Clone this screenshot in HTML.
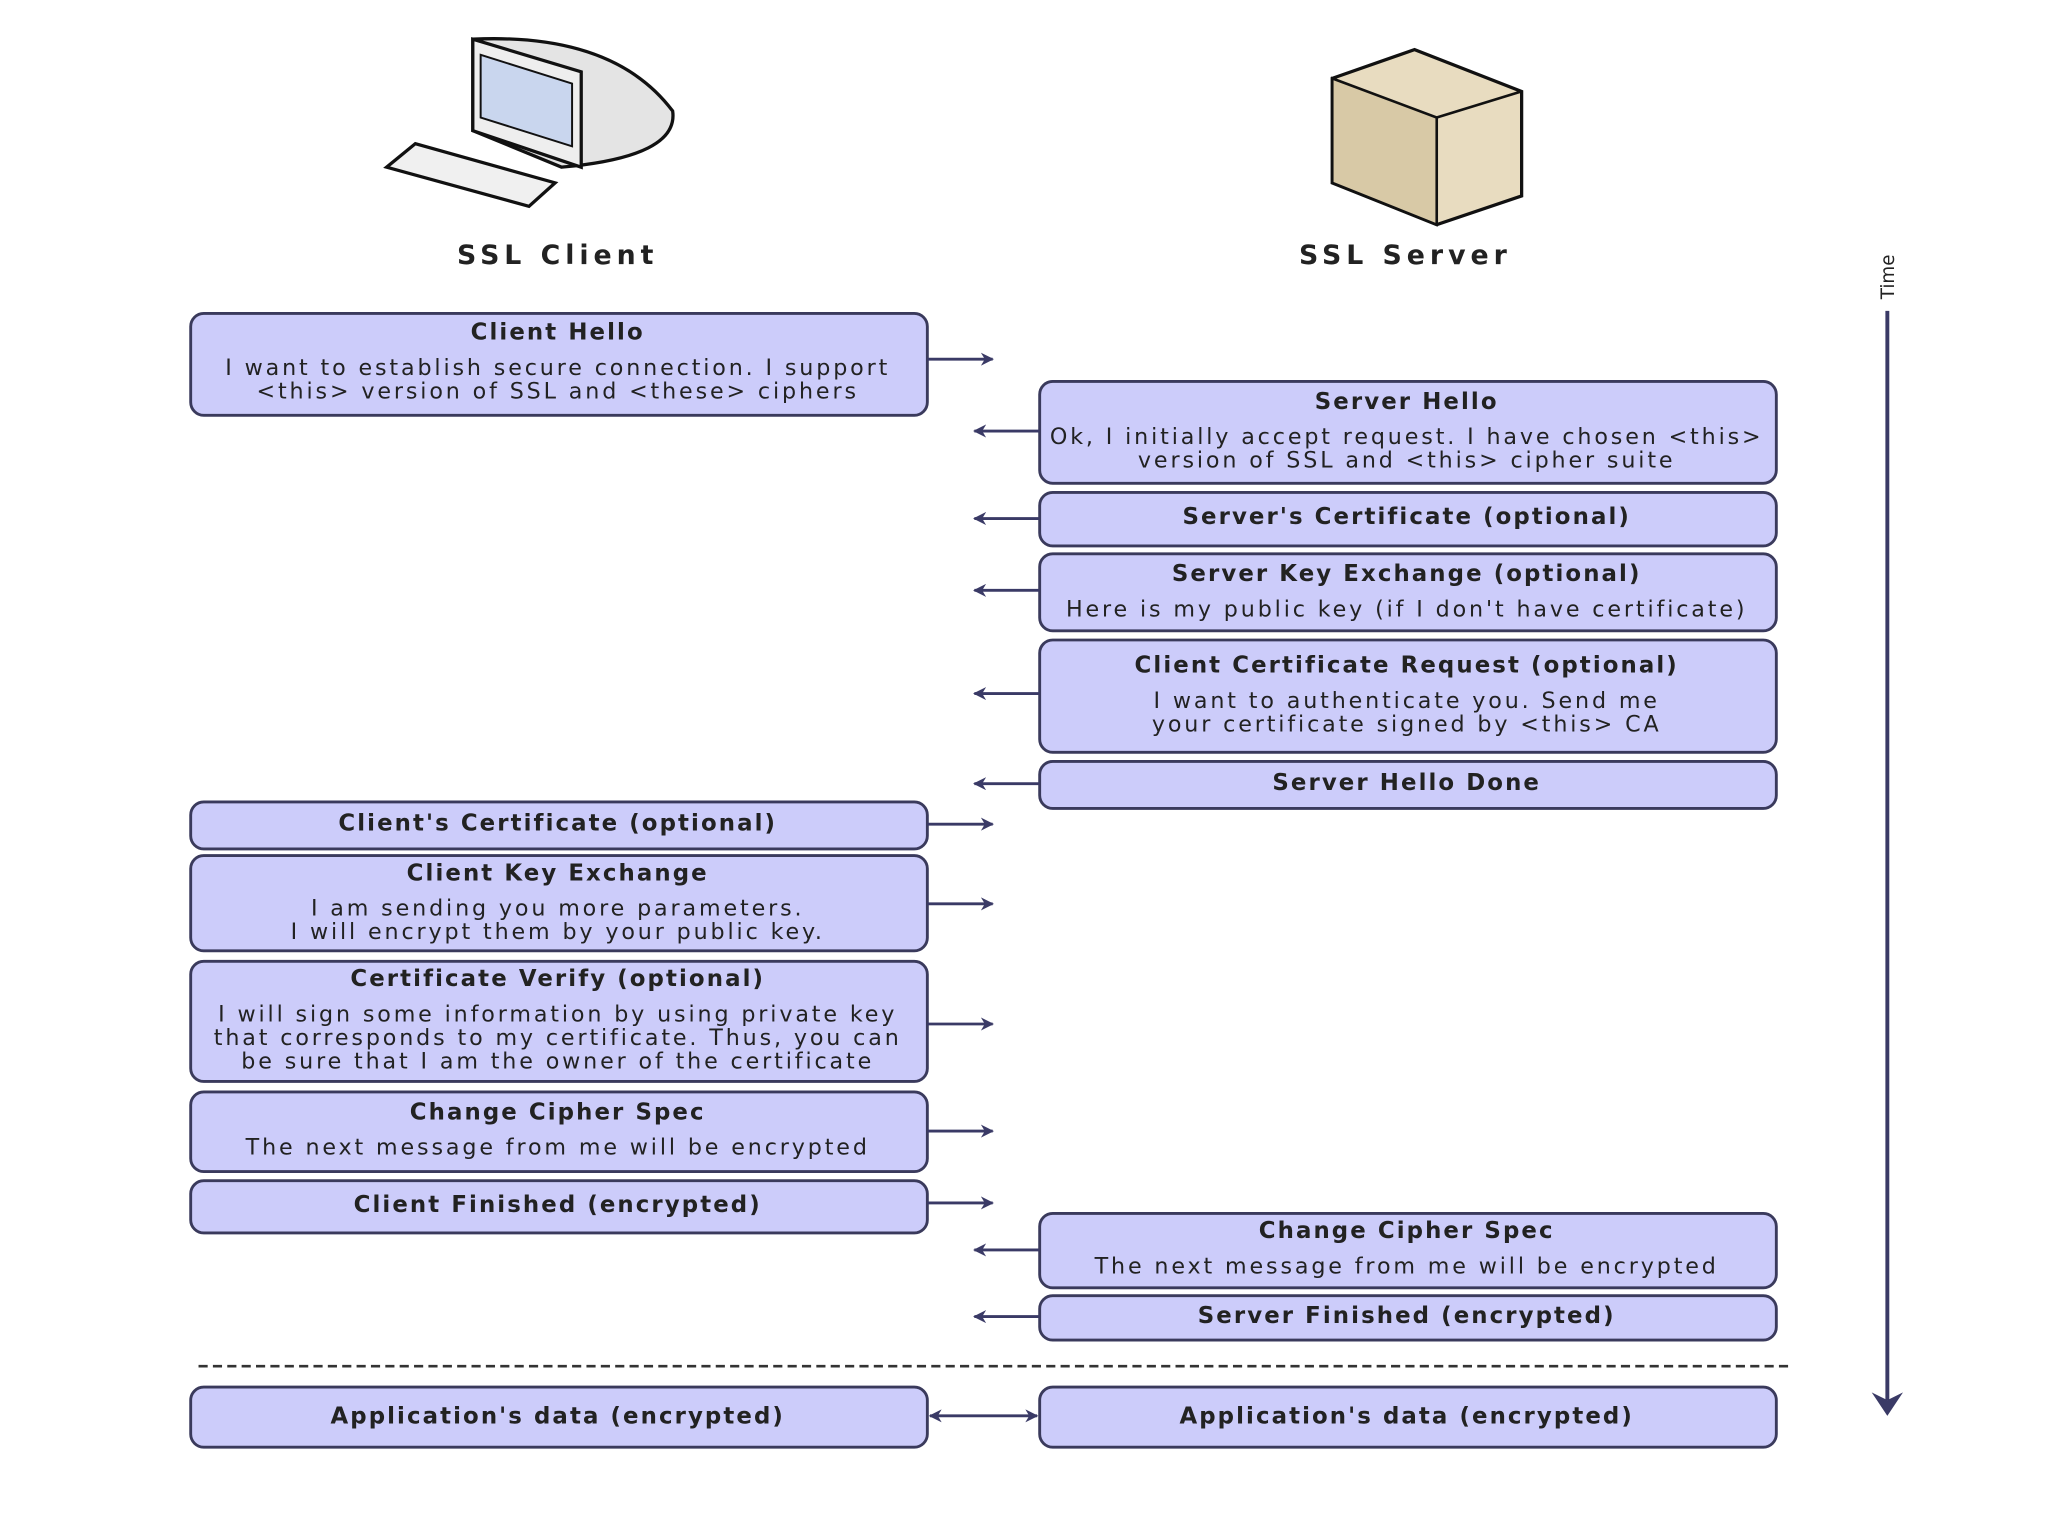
<!DOCTYPE html>
<html><head><meta charset="utf-8"><style>
html,body{margin:0;padding:0;background:#fff;}
svg{display:block}
text{font-family:"DejaVu Sans","Liberation Sans",sans-serif;fill:#222;}
.t{font-weight:bold;font-size:17.5px;text-anchor:middle;letter-spacing:1.6px}
.b{font-size:17px;text-anchor:middle;letter-spacing:2.2px}
.bx{fill:#ccccfa;stroke:#3a3a5c;stroke-width:2.2}
.ar{stroke:#3a3a66;stroke-width:2.2;fill:none}
</style></head><body>
<svg width="2048" height="1536" viewBox="0 0 1568 1176" xmlns="http://www.w3.org/2000/svg">
<defs>
<marker id="m" markerWidth="10" markerHeight="10" refX="9" refY="5" orient="auto" markerUnits="userSpaceOnUse"><path d="M0,0 L10,5 L0,10 L3,5 Z" fill="#3a3a66"/></marker>
<marker id="ms" markerWidth="10" markerHeight="10" refX="1" refY="5" orient="auto" markerUnits="userSpaceOnUse"><path d="M10,0 L0,5 L10,10 L7,5 Z" fill="#3a3a66"/></marker>
</defs>
<g stroke="#111" stroke-width="2.5">
<path d="M362,30 Q470,25 515,85 Q520,120 430,128 L362,100 Z" fill="#e4e4e4"/>
<path d="M362,30 L445,55 L445,128 L362,100 Z" fill="#eee"/>
<path d="M368,42 L438,64 L438,112 L368,90 Z" fill="#c9d6ee" stroke-width="1.5"/>
<path d="M296,128 L318,110 L425,140 L405,158 Z" fill="#f0f0f0"/>
</g>
<g stroke="#111" stroke-width="2.5">
<path d="M1020,60 L1083,38 L1165,70 L1165,150 L1100,172 L1020,140 Z" fill="#e8dcc0"/>
<path d="M1020,60 L1100,90 L1100,172 L1020,140 Z" fill="#d8c9a6" stroke-width="2"/>
<path d="M1100,90 L1165,70" fill="none" stroke-width="2"/>
</g>
<text x="427" y="202" style="font-weight:bold;font-size:20.5px;text-anchor:middle;letter-spacing:3.8px">SSL Client</text>
<text x="1076" y="202" style="font-weight:bold;font-size:20.5px;text-anchor:middle;letter-spacing:3.8px">SSL Server</text>
<text transform="translate(1450,212) rotate(-90)" style="font-size:14px;text-anchor:middle">Time</text>
<line x1="1445" y1="238" x2="1445" y2="1072" stroke="#3a3a66" stroke-width="3"/>
<path d="M1433,1066 L1445,1084 L1457,1066 L1445,1072 Z" fill="#3a3a66"/>

<rect class="bx" x="146" y="240" width="564" height="78" rx="10"/>
<text class="t" x="427" y="260">Client Hello</text>
<text class="b" x="427" y="287">I want to establish secure connection. I support</text>
<text class="b" x="427" y="305">&lt;this&gt; version of SSL and &lt;these&gt; ciphers</text>

<rect class="bx" x="146" y="614" width="564" height="36" rx="10"/>
<text class="t" x="427" y="636">Client's Certificate (optional)</text>

<rect class="bx" x="146" y="655" width="564" height="73" rx="10"/>
<text class="t" x="427" y="674">Client Key Exchange</text>
<text class="b" x="427" y="701">I am sending you more parameters.</text>
<text class="b" x="427" y="719">I will encrypt them by your public key.</text>

<rect class="bx" x="146" y="736" width="564" height="92" rx="10"/>
<text class="t" x="427" y="755">Certificate Verify (optional)</text>
<text class="b" x="427" y="782">I will sign some information by using private key</text>
<text class="b" x="427" y="800">that corresponds to my certificate. Thus, you can</text>
<text class="b" x="427" y="818">be sure that I am the owner of the certificate</text>

<rect class="bx" x="146" y="836" width="564" height="61" rx="10"/>
<text class="t" x="427" y="857">Change Cipher Spec</text>
<text class="b" x="427" y="884">The next message from me will be encrypted</text>

<rect class="bx" x="146" y="904" width="564" height="40" rx="10"/>
<text class="t" x="427" y="928">Client Finished (encrypted)</text>

<rect class="bx" x="146" y="1062" width="564" height="46" rx="10"/>
<text class="t" x="427" y="1090">Application's data (encrypted)</text>

<rect class="bx" x="796" y="292" width="564" height="78" rx="10"/>
<text class="t" x="1077" y="313">Server Hello</text>
<text class="b" x="1077" y="340">Ok, I initially accept request. I have chosen &lt;this&gt;</text>
<text class="b" x="1077" y="358">version of SSL and &lt;this&gt; cipher suite</text>

<rect class="bx" x="796" y="377" width="564" height="41" rx="10"/>
<text class="t" x="1077" y="401">Server's Certificate (optional)</text>

<rect class="bx" x="796" y="424" width="564" height="59" rx="10"/>
<text class="t" x="1077" y="445">Server Key Exchange (optional)</text>
<text class="b" x="1077" y="472">Here is my public key (if I don't have certificate)</text>

<rect class="bx" x="796" y="490" width="564" height="86" rx="10"/>
<text class="t" x="1077" y="515">Client Certificate Request (optional)</text>
<text class="b" x="1077" y="542">I want to authenticate you. Send me</text>
<text class="b" x="1077" y="560">your certificate signed by &lt;this&gt; CA</text>

<rect class="bx" x="796" y="583" width="564" height="36" rx="10"/>
<text class="t" x="1077" y="605">Server Hello Done</text>

<rect class="bx" x="796" y="929" width="564" height="57" rx="10"/>
<text class="t" x="1077" y="948">Change Cipher Spec</text>
<text class="b" x="1077" y="975">The next message from me will be encrypted</text>

<rect class="bx" x="796" y="992" width="564" height="34" rx="10"/>
<text class="t" x="1077" y="1013">Server Finished (encrypted)</text>

<rect class="bx" x="796" y="1062" width="564" height="46" rx="10"/>
<text class="t" x="1077" y="1090">Application's data (encrypted)</text>

<g class="ar" marker-end="url(#m)">
<line x1="710" y1="275" x2="760" y2="275"/>
<line x1="710" y1="631" x2="760" y2="631"/>
<line x1="710" y1="692" x2="760" y2="692"/>
<line x1="710" y1="784" x2="760" y2="784"/>
<line x1="710" y1="866" x2="760" y2="866"/>
<line x1="710" y1="921" x2="760" y2="921"/>
<line x1="796" y1="330" x2="746" y2="330"/>
<line x1="796" y1="397" x2="746" y2="397"/>
<line x1="796" y1="452" x2="746" y2="452"/>
<line x1="796" y1="531" x2="746" y2="531"/>
<line x1="796" y1="600" x2="746" y2="600"/>
<line x1="796" y1="957" x2="746" y2="957"/>
<line x1="796" y1="1008" x2="746" y2="1008"/>
</g>
<line class="ar" x1="712" y1="1084" x2="794" y2="1084" marker-end="url(#m)" marker-start="url(#ms)"/>
<line x1="152" y1="1046" x2="1370" y2="1046" stroke="#333" stroke-width="2" stroke-dasharray="7,4"/>
</svg>
</body></html>
